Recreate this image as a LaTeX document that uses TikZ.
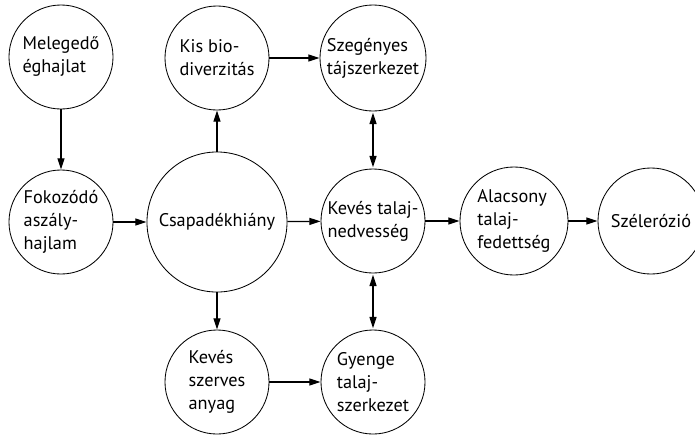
\documentclass[tikz,border=0pt]{standalone}
\usepackage{fontspec}
\setmainfont{PT Sans}
\usetikzlibrary{arrows.meta}

\begin{document}
\begin{tikzpicture}[x=0.025cm, y=-0.025cm,
    bubble/.style={circle, draw, line width=0.6pt, minimum size=2.6cm, inner sep=0pt},
    bigbubble/.style={bubble, minimum size=3.5cm},
    txt/.style={align=left, font=\fontsize{13}{16.4}\selectfont, inner sep=0pt},
    effect/.style={-{Triangle[length=8pt, width=5pt]}, line width=0.9pt},
    mutual/.style={{Triangle[length=8pt, width=5pt]}-{Triangle[length=8pt, width=5pt]}, line width=0.9pt}]
    \useasboundingbox (0,0) rectangle (695,435);

    % causes on the left
    \node[bubble, label={[txt]center:Melegedő\\éghajlat}] (meleg) at (61,57) {};
    \node[bubble, label={[txt]center:Fokozódó\\aszály-\\hajlam}] (aszaly) at (61,222) {};
    \node[bigbubble, label={[txt]center:Csapadékhiány}] (csapad) at (217,222) {};

    % effects of the rainfall deficit
    \node[bubble, label={[txt]center:Kis bio-\\diverzitás}] (biodiv) at (217,58) {};
    \node[bubble, minimum size=2.65cm, label={[txt]center:Szegényes\\tájszerkezet}] (tajszerk) at (373,58) {};
    \node[bubble, label={[txt]center:Kevés talaj-\\nedvesség}] (nedv) at (373,221) {};
    \node[bubble, label={[txt]center:Kevés\\szerves\\anyag}] (szerves) at (217,382) {};
    \node[bubble, label={[txt]center:Gyenge\\talaj-\\szerkezet}] (talajszerk) at (373,382) {};

    % right chain
    \node[bubble, minimum size=2.7cm, label={[txt]center:Alacsony\\talaj-\\fedettség}] (fedett) at (514,221) {};
    \node[bubble, minimum size=2.65cm, label={[txt]center:Szélerózió}] (erozio) at (651,221) {};

    % one-way links
    \draw[effect] (meleg) -- (aszaly);
    \draw[effect] (aszaly) -- (csapad);
    \draw[effect] (csapad) -- (biodiv);
    \draw[effect] (csapad) -- (nedv);
    \draw[effect] (csapad) -- (szerves);
    \draw[effect] (biodiv) -- (tajszerk);
    \draw[effect] (szerves) -- (talajszerk);
    \draw[effect] (nedv) -- (fedett);
    \draw[effect] (fedett) -- (erozio);

    % two-way links
    \draw[mutual, shorten <=1pt, shorten >=1pt] (tajszerk) -- (nedv);
    \draw[mutual, shorten <=1pt, shorten >=1pt] (nedv) -- (talajszerk);
\end{tikzpicture}
\end{document}
